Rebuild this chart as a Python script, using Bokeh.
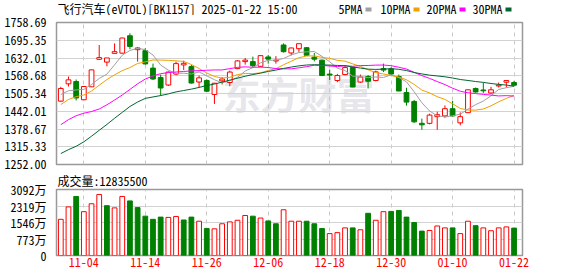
from bokeh.plotting import figure
from bokeh.layouts import column
from bokeh.models import Range1d, FixedTicker, Label, ColumnDataSource, NumeralTickFormatter, Title
from bokeh.core.properties import value
from bokeh.embed import file_html
from bokeh.resources import INLINE

# ---------------- data ----------------
dates = ["10-30", "10-31", "11-01", "11-04", "11-05", "11-06", "11-07", "11-08",
         "11-11", "11-12", "11-13", "11-14", "11-15", "11-18", "11-19", "11-20",
         "11-21", "11-22", "11-25", "11-26", "11-27", "11-28", "11-29", "12-02",
         "12-03", "12-04", "12-05", "12-06", "12-09", "12-10", "12-11", "12-12",
         "12-13", "12-16", "12-17", "12-18", "12-19", "12-20", "12-23", "12-24",
         "12-25", "12-26", "12-27", "12-30", "12-31", "01-02", "01-03", "01-06",
         "01-07", "01-08", "01-09", "01-10", "01-13", "01-14", "01-15", "01-16",
         "01-17", "01-20", "01-21", "01-22"]

open_ = [1478.1, 1539.9, 1548.1, 1483.0, 1529.2, 1627.5, 1617.3, 1648.6, 1649.3, 1711.4,
         1661.7, 1658.2, 1596.0, 1562.3, 1535.6, 1574.7, 1607.4, 1601.3, 1546.3, 1551.6,
         1501.9, 1550.5, 1544.5, 1594.2, 1619.1, 1619.1, 1602.4, 1635.8, 1621.5, 1678.4,
         1650.0, 1665.3, 1668.8, 1635.0, 1624.4, 1574.7, 1551.6, 1572.9, 1597.8, 1546.3,
         1565.8, 1551.6, 1594.2, 1593.2, 1565.8, 1509.0, 1477.0, 1398.9, 1398.9, 1422.7,
         1425.5, 1451.1, 1400.6, 1436.9, 1523.2, 1517.9, 1507.2, 1532.1, 1545.6, 1544.5]
high = [1529.2, 1565.8, 1555.2, 1532.0, 1590.7, 1678.4, 1632.2, 1684.1, 1704.3, 1720.3,
        1670.6, 1667.1, 1612.0, 1572.9, 1583.6, 1619.1, 1622.7, 1607.4, 1569.4, 1556.2,
        1542.7, 1564.0, 1587.1, 1624.4, 1632.2, 1636.9, 1641.5, 1642.9, 1638.7, 1684.1,
        1668.8, 1683.0, 1671.3, 1650.0, 1626.2, 1590.7, 1575.4, 1606.0, 1599.2, 1572.9,
        1571.1, 1587.1, 1612.0, 1598.9, 1572.9, 1525.7, 1482.3, 1415.6, 1433.3, 1440.4,
        1462.8, 1478.8, 1437.9, 1519.6, 1526.8, 1544.5, 1529.2, 1544.5, 1551.6, 1550.5]
low = [1475.9, 1530.3, 1480.6, 1482.0, 1528.5, 1624.8, 1602.4, 1648.6, 1648.6, 1663.5,
       1619.1, 1608.4, 1553.4, 1496.6, 1532.0, 1571.1, 1588.9, 1541.0, 1525.7, 1510.8,
       1468.2, 1537.4, 1531.4, 1592.4, 1608.4, 1599.6, 1599.6, 1612.0, 1612.0, 1651.1,
       1641.5, 1653.6, 1640.4, 1620.0, 1567.6, 1553.4, 1545.6, 1570.4, 1527.9, 1543.5,
       1523.2, 1549.1, 1581.8, 1571.1, 1513.6, 1462.1, 1400.6, 1375.8, 1395.3, 1375.8,
       1419.1, 1422.7, 1391.8, 1436.9, 1508.0, 1507.2, 1504.3, 1526.8, 1526.8, 1530.3]
close = [1523.2, 1554.1, 1489.5, 1530.3, 1589.6, 1633.5, 1632.2, 1654.6, 1703.3, 1673.4,
         1667.8, 1610.9, 1557.0, 1525.0, 1581.8, 1612.0, 1613.1, 1542.7, 1561.2, 1513.6,
         1542.0, 1557.0, 1581.8, 1621.6, 1624.4, 1604.9, 1640.4, 1628.0, 1624.0, 1654.6,
         1667.8, 1683.0, 1641.5, 1628.0, 1569.4, 1571.1, 1569.4, 1597.8, 1528.5, 1564.0,
         1549.1, 1582.5, 1588.9, 1574.7, 1514.3, 1474.6, 1404.2, 1393.6, 1428.3, 1429.8,
         1451.1, 1425.5, 1422.7, 1518.6, 1510.8, 1515.0, 1518.6, 1535.6, 1551.6, 1535.0]

ma5 = [1502.0, 1515.0, 1518.0, 1520.0, 1537.3, 1559.0, 1574.5, 1607.6, 1642.2, 1659.0,
       1666.3, 1662.0, 1642.5, 1606.8, 1588.5, 1577.3, 1577.8, 1574.9, 1582.2, 1568.5,
       1554.5, 1543.3, 1551.1, 1563.2, 1585.4, 1597.9, 1614.6, 1623.9, 1624.3, 1630.4,
       1643.0, 1651.5, 1654.2, 1655.0, 1637.9, 1618.6, 1595.9, 1587.1, 1567.2, 1566.2,
       1561.8, 1564.4, 1562.6, 1571.8, 1561.9, 1547.0, 1511.3, 1472.3, 1443.0, 1426.1,
       1421.4, 1425.7, 1431.5, 1449.5, 1465.7, 1478.5, 1497.1, 1519.7, 1526.1, 1530.9]
ma10 = [1466.0, 1484.0, 1494.0, 1500.0, 1514.0, 1535.0, 1555.0, 1572.0, 1587.0, 1598.0,
        1612.5, 1618.2, 1625.0, 1624.5, 1623.7, 1621.8, 1619.9, 1608.7, 1594.5, 1578.6,
        1566.0, 1560.6, 1563.1, 1572.8, 1577.0, 1576.3, 1579.0, 1587.5, 1593.8, 1607.9,
        1620.5, 1633.1, 1639.1, 1639.7, 1634.2, 1630.8, 1623.7, 1620.7, 1611.1, 1602.0,
        1590.1, 1580.0, 1574.8, 1569.5, 1564.0, 1554.4, 1537.9, 1517.5, 1507.5, 1494.0,
        1484.3, 1468.6, 1452.0, 1446.3, 1446.0, 1450.0, 1461.5, 1475.6, 1488.0, 1498.5]
ma20 = [1394.0, 1412.0, 1426.0, 1435.0, 1441.0, 1450.0, 1465.0, 1482.0, 1500.0, 1520.0,
        1540.0, 1557.0, 1568.0, 1576.0, 1580.0, 1582.0, 1584.0, 1586.0, 1587.0, 1588.3,
        1589.3, 1589.4, 1594.0, 1598.6, 1600.4, 1599.0, 1599.4, 1598.1, 1594.2, 1593.3,
        1593.3, 1596.9, 1601.1, 1606.2, 1605.6, 1603.5, 1601.3, 1604.1, 1602.5, 1605.0,
        1605.3, 1606.6, 1606.9, 1604.6, 1599.1, 1592.6, 1580.8, 1569.1, 1559.3, 1548.0,
        1537.2, 1524.3, 1513.4, 1507.9, 1505.0, 1502.2, 1499.7, 1496.6, 1497.7, 1496.3]
ma30 = [1291.0, 1305.0, 1317.0, 1333.0, 1353.0, 1374.0, 1395.0, 1417.0, 1438.0, 1459.0,
        1475.0, 1488.0, 1493.0, 1498.0, 1504.0, 1511.0, 1516.0, 1521.0, 1527.0, 1534.0,
        1539.0, 1546.0, 1553.0, 1560.0, 1567.0, 1573.0, 1578.0, 1584.0, 1589.0, 1594.8,
        1599.7, 1604.0, 1607.0, 1608.0, 1607.6, 1606.6, 1605.5, 1604.6, 1599.8, 1596.2,
        1592.2, 1591.3, 1592.3, 1594.0, 1591.7, 1587.2, 1580.2, 1575.2, 1570.8, 1568.0,
        1565.0, 1560.6, 1555.3, 1551.8, 1548.1, 1545.0, 1541.0, 1537.9, 1535.5, 1531.5]

# volume in 万 (10k)
volume = [1695, 2276, 2766, 2053, 2423, 2856, 2334, 2231, 2766, 2557,
          2244, 1843, 1695, 1798, 1785, 1829, 1664, 1798, 1606, 1263,
          1249, 1486, 1575, 1651, 1874, 1843, 1754, 1620, 1486, 2142,
          1606, 1606, 1606, 1486, 1263, 1026, 1071, 1294, 1294, 1205,
          1977, 1651, 2053, 2066, 2111, 1798, 1544, 1142, 1173, 1383,
          1294, 1294, 1026, 1606, 1397, 1294, 1160, 1294, 1339, 1283.55]
vol_up = [1, 1, 0, 1, 1, 1, 0, 1, 1, 0,
          0, 0, 0, 0, 1, 1, 0, 0, 1, 0,
          1, 1, 1, 1, 1, 0, 1, 0, 0, 1,
          1, 1, 0, 0, 0, 1, 1, 1, 0, 1,
          0, 1, 1, 0, 0, 0, 0, 0, 1, 1,
          1, 0, 1, 1, 0, 1, 1, 1, 1, 0]

price_ticks = [1252.00, 1315.33, 1378.67, 1442.01, 1505.34, 1568.68, 1632.01, 1695.35, 1758.69]
vol_ticks = [0, 773, 1546, 2319, 3092]
vol_tick_labels = ["0", "773万", "1546万", "2319万", "3092万"]
tick_dates = ["11-04", "11-14", "11-26", "12-06", "12-18", "12-30", "01-10", "01-22"]

title_text = "飞行汽车(eVTOL)[BK1157] 2025-01-22 15:00"
vol_title = "成交量:12835500"
ma_names = ["5PMA", "10PMA", "20PMA", "30PMA"]

# ---------------- styling ----------------
W = 578
BL, BR = 56, 56
UP = "#ff0000"
DOWN = "#008000"
MA_COLORS = ["#a0a0a0", "#f0a000", "#ff00ff", "#006633"]
FONT = "'Noto Sans Mono CJK SC', 'Noto Sans CJK SC', sans-serif"
GRID = "#d2d2d2"
VGRID = "#c8c8c8"
FRAME = "#999999"

n = len(dates)
idx = list(range(n))
tick_idx = [dates.index(d) for d in tick_dates]

# ---------------- header (title + MA legend), x in canvas pixels ----------------
HEAD_H = 15
h0 = figure(width=W, height=HEAD_H, x_range=Range1d(BL, W - BR), y_range=Range1d(HEAD_H, 0),
            output_backend="svg", toolbar_location=None,
            x_axis_location=None, y_axis_location=None,
            min_border_left=BL, min_border_right=BR, min_border_top=0, min_border_bottom=0)
h0.grid.visible = False
h0.outline_line_color = None
h0.text(x=[57], y=[8], text=[title_text], text_font=value(FONT), text_font_size="12px",
        text_color="#000000", text_baseline="middle", text_align="left")
leg_x = [338, 380, 426, 472]
h0.text(x=leg_x, y=[8] * 4, text=ma_names, text_font=value(FONT), text_font_size="12px",
        text_color="#000000", text_baseline="middle", text_align="left")
sw_left = [lx + len(name) * 6 + 3 for lx, name in zip(leg_x, ma_names)]
h0.quad(left=sw_left, right=[s + 6 for s in sw_left], top=[7] * 4, bottom=[11] * 4,
        fill_color=MA_COLORS, line_color=None)

# ---------------- price panel ----------------
up_flag = [c >= o for o, c in zip(open_, close)]
src = ColumnDataSource(dict(
    x=idx, o=open_, h=high, l=low, c=close,
    top=[max(o, c) for o, c in zip(open_, close)],
    bot=[min(o, c) for o, c in zip(open_, close)],
    col=[UP if u else DOWN for u in up_flag],
    fill=["#ffffff" if u else DOWN for u in up_flag],
))

xr = Range1d(-0.56, n + 0.1)

p1 = figure(width=W, height=155, x_range=xr, y_range=Range1d(price_ticks[0], price_ticks[-1]),
            output_backend="svg", toolbar_location=None,
            min_border_left=BL, min_border_right=BR, min_border_top=7, min_border_bottom=6)
p1.xaxis.visible = False
p1.xgrid.ticker = FixedTicker(ticks=tick_idx)
p1.xgrid.grid_line_color = VGRID
p1.xgrid.grid_line_dash = "4 4"
p1.ygrid.ticker = FixedTicker(ticks=price_ticks)
p1.ygrid.grid_line_color = GRID
p1.yaxis.ticker = FixedTicker(ticks=price_ticks)
p1.yaxis.formatter = NumeralTickFormatter(format="0.00")
p1.outline_line_color = FRAME
p1.outline_line_width = 1.5

# watermark
p1.add_layout(Label(x=222, y=77, x_units="canvas", y_units="canvas", text="东方财富",
                    text_font=FONT, text_font_size="38px", text_font_style="bold",
                    text_color="#e6e6eb", text_baseline="middle", level="image"))

p1.segment(x0="x", y0="l", x1="x", y1="h", color="col", line_width=1, source=src)
p1.vbar(x="x", width=0.62, top="top", bottom="bot", fill_color="fill", line_color="col",
        line_width=1, source=src)
for arr, colr in zip([ma5, ma10, ma20, ma30], MA_COLORS):
    p1.line(idx, arr, line_color=colr, line_width=1)

# ---------------- volume panel ----------------
vsrc = ColumnDataSource(dict(
    x=idx, v=volume,
    col=[UP if u else DOWN for u in vol_up],
    fill=["#ffffff" if u else DOWN for u in vol_up],
))

p2 = figure(width=W, height=106, x_range=xr, y_range=Range1d(vol_ticks[0], vol_ticks[-1]),
            output_backend="svg", toolbar_location=None,
            min_border_left=BL, min_border_right=BR, min_border_top=16, min_border_bottom=21)
p2.title = Title(text=vol_title, align="left", offset=1, standoff=0, vertical_align="middle",
                 text_font=FONT, text_font_size="12px", text_font_style="normal",
                 text_color="#000000")
p2.vbar(x="x", width=0.62, top="v", bottom=0, fill_color="fill", line_color="col",
        line_width=1, source=vsrc)
p2.xaxis.ticker = FixedTicker(ticks=tick_idx)
p2.xaxis.major_label_overrides = {i: d for i, d in zip(tick_idx, tick_dates)}
p2.xgrid.ticker = FixedTicker(ticks=tick_idx)
p2.xgrid.grid_line_color = VGRID
p2.xgrid.grid_line_dash = "4 4"
p2.yaxis.ticker = FixedTicker(ticks=vol_ticks)
p2.yaxis.major_label_overrides = {t: s for t, s in zip(vol_ticks, vol_tick_labels)}
p2.ygrid.ticker = FixedTicker(ticks=vol_ticks)
p2.ygrid.grid_line_color = GRID
p2.outline_line_color = FRAME
p2.outline_line_width = 1.5
p2.xaxis.major_label_text_color = UP

for p in (p1, p2):
    for ax in p.axis:
        ax.axis_line_color = None
        ax.major_tick_line_color = None
        ax.minor_tick_line_color = None
        ax.major_label_text_font = FONT
        ax.major_label_text_font_size = "12px"
        ax.major_label_standoff = 4
    p.yaxis.major_label_text_color = "#000000"
p2.xaxis.major_label_standoff = -4

layout = column(h0, p1, p2, spacing=0)
open("out.html", "w").write(file_html(layout, INLINE))
